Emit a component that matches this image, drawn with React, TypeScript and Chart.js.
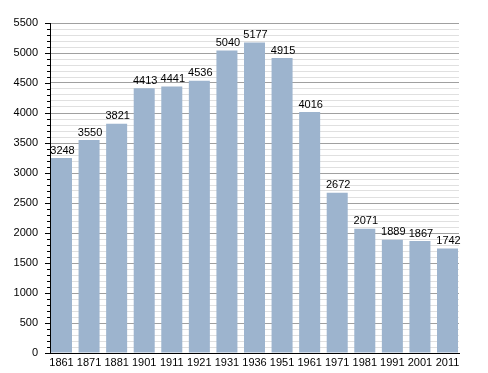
import React, { useEffect, useRef } from "react";
import { Chart, registerables } from "chart.js";

Chart.register(...registerables);

const years = ["1861","1871","1881","1901","1911","1921","1931","1936","1951","1961","1971","1981","1991","2001","2011"];
const population = [3248,3550,3821,4413,4441,4536,5040,5177,4915,4016,2672,2071,1889,1867,1742];
const yMax = 5500;
const majorStep = 500;
const minorStep = 100;

const FONT = "'Liberation Sans', Arial, sans-serif";

const extras = {
  id: "extras",
  afterDatasetsDraw(chart: any) {
    const ctx = chart.ctx;
    const y = chart.scales.y;
    const meta = chart.getDatasetMeta(0);
    ctx.save();
    ctx.strokeStyle = "#000";
    ctx.lineWidth = 1;
    for (let v = 0; v <= yMax; v += minorStep) {
      const py = Math.round(y.getPixelForValue(v)) + 0.5;
      const len = v % majorStep === 0 ? 5 : 3;
      ctx.beginPath();
      ctx.moveTo(y.right - len, py);
      ctx.lineTo(y.right, py);
      ctx.stroke();
    }
    ctx.fillStyle = "#000";
    ctx.font = `11px ${FONT}`;
    ctx.textAlign = "center";
    ctx.textBaseline = "bottom";
    meta.data.forEach((bar: any, i: number) => {
      ctx.fillText(String(population[i]), bar.x + 1, bar.y - 2);
    });
    ctx.restore();
  },
};

export default function App() {
  const ref = useRef<HTMLCanvasElement>(null);
  useEffect(() => {
    const chart = new Chart(ref.current!, {
      type: "bar",
      data: {
        datasets: [
          {
            data: population.map((p, i) => ({ x: i, y: p })),
            backgroundColor: "#9db4ce",
            borderWidth: 0,
            categoryPercentage: 1,
            barPercentage: 0.762,
          },
        ],
      },
      options: {
        animation: false,
        responsive: false,
        layout: { padding: { top: 23, right: 29, left: 0, bottom: 0 } },
        plugins: { legend: { display: false }, tooltip: { enabled: false } },
        scales: {
          x: {
            type: "linear",
            min: -0.417,
            max: years.length - 1 + 0.417,
            offset: false,
            grid: { display: false, drawTicks: false },
            border: { color: "#000", width: 1 },
            afterBuildTicks: (s: any) => {
              s.ticks = years.map((_, i) => ({ value: i }));
            },
            ticks: {
              color: "#000",
              font: { family: FONT, size: 11 },
              padding: 3,
              maxRotation: 0,
              autoSkip: false,
              callback: (v: any) => years[Math.round(Number(v))] ?? "",
            },
            afterFit: (s: any) => { s.height = 20; },
          },
          y: {
            min: 0,
            max: yMax,
            grid: {
              drawTicks: false,
              color: (c: any) => (c.tick && c.tick.value % majorStep === 0 ? "#a0a0a0" : "#e0e0e0"),
            },
            border: { color: "#000", width: 1 },
            ticks: {
              stepSize: minorStep,
              autoSkip: false,
              maxTicksLimit: 1000,
              color: "#000",
              font: { family: FONT, size: 11 },
              padding: 12,
              callback: (v: any) => (Number(v) % majorStep === 0 ? String(v) : ""),
            },
            afterFit: (s: any) => { s.width = 50; },
          },
        },
      },
      plugins: [extras],
    });
    return () => chart.destroy();
  }, []);
  return (
    <div style={{ position: "absolute", left: 0, top: 0, width: 488, height: 373, background: "#fff" }}>
      <canvas ref={ref} width={488} height={373} />
    </div>
  );
}
